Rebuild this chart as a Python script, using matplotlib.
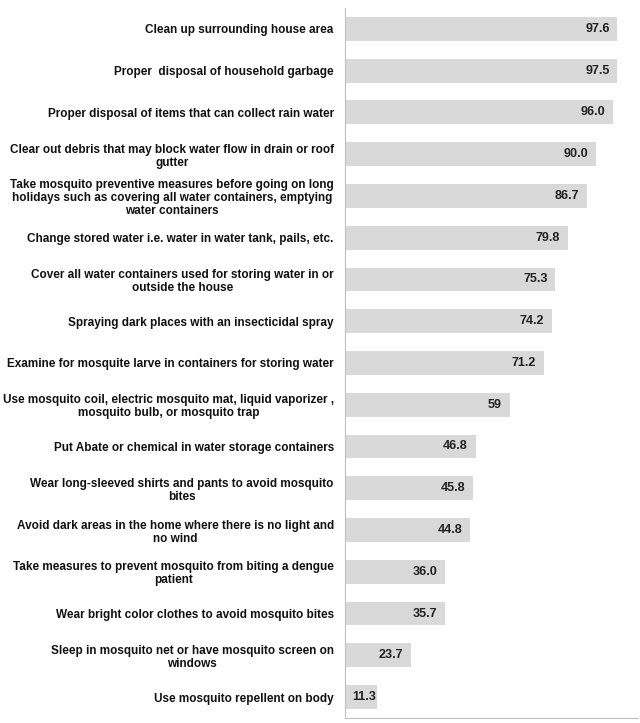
import matplotlib
matplotlib.use("Agg")
import matplotlib.pyplot as plt

categories = [
    "Clean up surrounding house area",
    "Proper  disposal of household garbage",
    "Proper disposal of items that can collect rain water",
    "Clear out debris that may block water flow in drain or roof\ngutter",
    "Take mosquito preventive measures before going on long\nholidays such as covering all water containers, emptying\nwater containers",
    "Change stored water i.e. water in water tank, pails, etc.",
    "Cover all water containers used for storing water in or\noutside the house",
    "Spraying dark places with an insecticidal spray",
    "Examine for mosquite larve in containers for storing water",
    "Use mosquito coil, electric mosquito mat, liquid vaporizer ,\nmosquito bulb, or mosquito trap",
    "Put Abate or chemical in water storage containers",
    "Wear long-sleeved shirts and pants to avoid mosquito\nbites",
    "Avoid dark areas in the home where there is no light and\nno wind",
    "Take measures to prevent mosquito from biting a dengue\npatient",
    "Wear bright color clothes to avoid mosquito bites",
    "Sleep in mosquito net or have mosquito screen on\nwindows",
    "Use mosquito repellent on body",
]
values = [97.6, 97.5, 96.0, 90.0, 86.7, 79.8, 75.3, 74.2, 71.2, 59, 46.8, 45.8, 44.8, 36.0, 35.7, 23.7, 11.3]
value_labels = ["97.6", "97.5", "96.0", "90.0", "86.7", "79.8", "75.3", "74.2", "71.2", "59",
                "46.8", "45.8", "44.8", "36.0", "35.7", "23.7", "11.3"]

plt.rcParams['font.family'] = ['Liberation Sans', 'DejaVu Sans']

fig = plt.figure(figsize=(6.4, 7.23), dpi=100)
ax = fig.add_axes([0.539, 0.007, 0.458, 0.982])

n = len(categories)
ypos = list(range(n))
ax.barh(ypos, values, height=0.57, color="#d9d9d9", edgecolor="none")
ax.set_ylim(n - 0.5, -0.5)
ax.set_xlim(0, 105)

ax.set_yticks(ypos)
ax.set_yticklabels(categories, fontsize=8.5, fontweight="bold", multialignment="center",
                   linespacing=1.12, color="#111111")
ax.tick_params(axis="y", length=0, pad=8)
ax.set_xticks([])

for y, v, lab in zip(ypos, values, value_labels):
    if v < 15:
        ax.annotate(lab, xy=(0, y), xytext=(5.5, 0), textcoords="offset points",
                    ha="left", va="center", fontsize=9.1, fontweight="bold", color="#222222")
    else:
        ax.annotate(lab, xy=(v, y), xytext=(-5.5, 0), textcoords="offset points",
                    ha="right", va="center", fontsize=9.1, fontweight="bold", color="#222222")

for s in ["top", "right"]:
    ax.spines[s].set_visible(False)
ax.spines["left"].set_color("#bfbfbf")
ax.spines["bottom"].set_color("#bfbfbf")
ax.spines["left"].set_linewidth(0.8)
ax.spines["bottom"].set_linewidth(0.8)

fig.savefig("out.png", dpi=100)
